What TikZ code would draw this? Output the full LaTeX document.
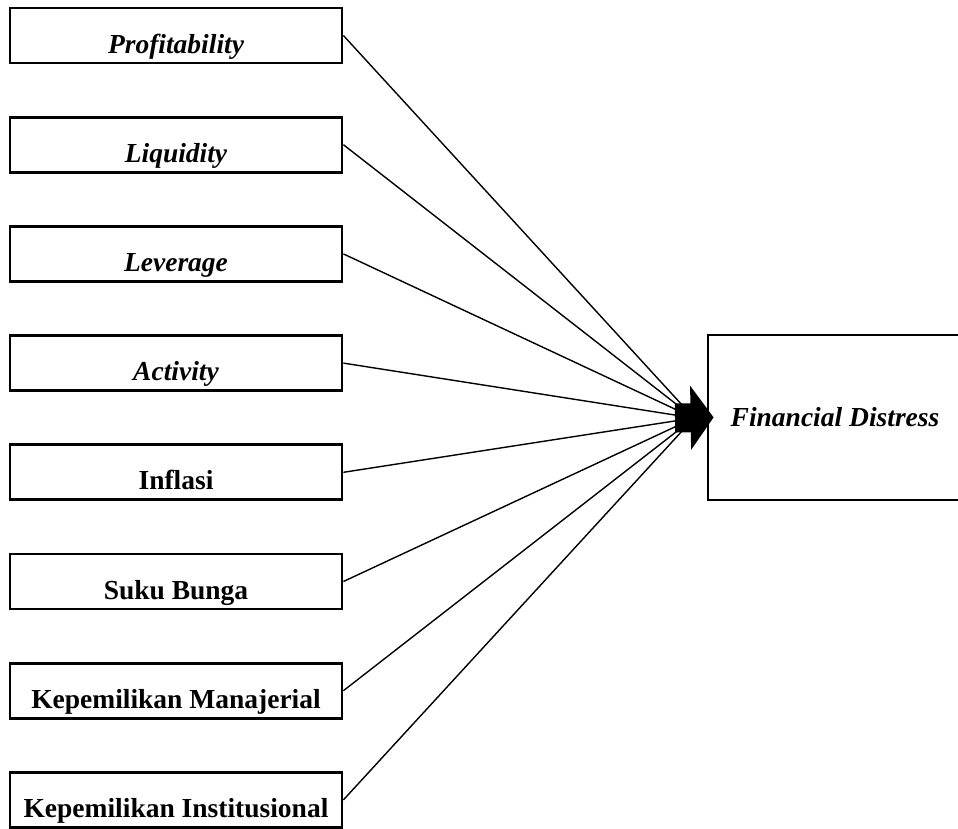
\documentclass[tikz,border=0pt]{standalone}
\usepackage{fontspec}
\setmainfont{Liberation Serif}
\usetikzlibrary{arrows.meta, positioning}

\begin{document}
\begin{tikzpicture}[x=1pt, y=1pt, >=latex, node distance=51.4pt]
  \tikzstyle{var}=[draw, line width=2.8pt, minimum width=332pt, inner ysep=0pt, text height=45pt, text depth=10pt, font=\fontsize{27.5}{30}\selectfont\bfseries]
  \tikzstyle{dep}=[draw, line width=2.8pt, minimum width=254pt, minimum height=165pt, font=\fontsize{27.5}{30}\selectfont\bfseries\itshape]
  \tikzstyle{link}=[line width=1.4pt]

  \useasboundingbox (0,0) rectangle (958,-828);

  % Left column of variables
  \node[var] at (176,-35.5) (prof) {\itshape Profitability};
  \node[var, below=of prof] (liq) {\itshape Liquidity};
  \node[var, below=of liq] (lev) {\itshape Leverage};
  \node[var, below=of lev] (act) {\itshape Activity};
  \node[var, below=of act] (inf) {Inflasi};
  \node[var, below=of inf] (suku) {Suku Bunga};
  \node[var, below=of suku] (kman) {Kepemilikan Manajerial};
  \node[var, below=of kman] (kinst) {Kepemilikan Institusional};

  % Dependent variable
  \node[dep] at (835,-417.5) (fd) {Financial Distress};
  \coordinate (hub) at (694,-418);
  \coordinate (tail) at (675,-418);

  \draw[link] (prof.east) -- (hub);
  \draw[link] (liq.east) -- (hub);
  \draw[link] (lev.east) -- (hub);
  \draw[link] (act.east) -- (hub);
  \draw[link] (inf.east) -- (hub);
  \draw[link] (suku.east) -- (hub);
  \draw[link] (kman.east) -- (hub);
  \draw[link] (kinst.east) -- (hub);
  \draw[line width=29pt, -{Triangle[length=23pt 0 0, width=63pt 0 0]}, shorten >=-7pt] (tail) -- (fd.west);
\end{tikzpicture}
\end{document}
